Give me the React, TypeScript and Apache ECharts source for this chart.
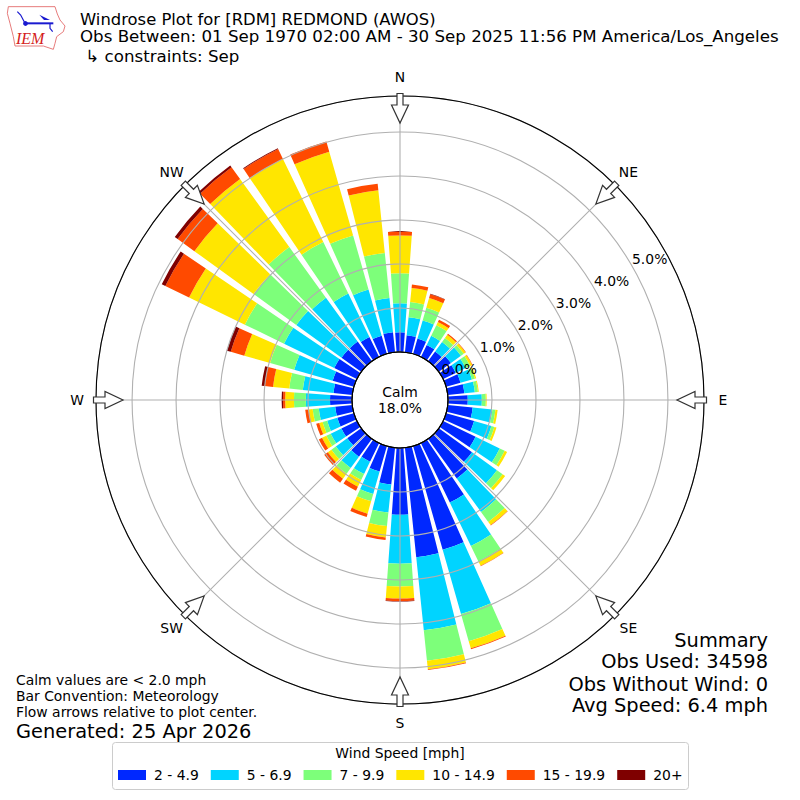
import React, { useEffect, useRef } from "react";
import * as echarts from "echarts";

const directions = Array.from({ length: 36 }, (_, i) => String(i * 10));
const compass = ["N", "NE", "E", "SE", "S", "SW", "W", "NW"];
const bins = ["2 - 4.9", "5 - 6.9", "7 - 9.9", "10 - 14.9", "15 - 19.9", "20+"];
const colors = ["#0028ff", "#00d4ff", "#7dff7a", "#ffe600", "#ff4a00", "#7f0000"];

const speed2to5 = [.45,.39,.36,.30,.27,.34,.32,.34,.38,.45,.57,.66,.82,.93,1.11,1.5,2.45,2.5,1.52,.84,.60,.47,.50,.39,.39,.39,.39,.5,.43,.5,.57,.55,.55,.5,.43,.46];
const speed5to7 = [.66,.41,.43,.23,.27,.28,.25,.27,.24,.32,.45,.41,.61,.70,.94,1.10,1.52,1.67,1.11,.64,.53,.31,.32,.32,.27,.24,.375,.55,.70,.91,1.27,1.27,1.23,1.10,1.09,.78];
const speed7to10 = [.68,.35,.30,.27,.11,.08,.11,.07,.07,.09,.07,.07,.125,.16,.28,.39,.64,.70,.52,.31,.175,.15,.16,.125,.11,.11,.14,.27,.31,.57,.99,1.20,1.42,1.30,1.28,1.03];
const speed10to15 = [.86,.32,.23,.08,.09,.05,.05,.03,.02,.02,.05,.05,.06,.07,.09,.11,.17,.19,.27,.26,.29,.17,.14,.10,.11,.08,.09,.20,.37,.61,1.41,1.66,1.91,2.10,1.98,1.43];
const speed15to20 = [.09,.08,.09,.06,.03,.01,.01,0,0,0,0,0,0,0,.01,.01,.02,.02,.06,.06,.08,.10,.11,.10,.08,.07,.08,.05,.19,.32,.60,.47,.33,.25,.24,.15];
const speed20plus = [0,0,.01,0,0,0,0,0,0,0,0,0,0,0,0,0,0,0,.01,0,0,0,0,0,0,0,0,.03,.07,.09,.09,.08,.05,.02,0,0];
const speedSeries = [speed2to5, speed5to7, speed7to10, speed10to15, speed15to20, speed20plus];

const titleLines = [
  "Windrose Plot for [RDM] REDMOND (AWOS)",
  "Obs Between: 01 Sep 1970 02:00 AM - 30 Sep 2025 11:56 PM America/Los_Angeles",
  " ↳ constraints: Sep",
];
const summaryLines = ["Summary", "Obs Used: 34598", "Obs Without Wind: 0", "Avg Speed: 6.4 mph"];
const noteLines = ["Calm values are < 2.0 mph", "Bar Convention: Meteorology", "Flow arrows relative to plot center."];
const FONT = "DejaVu Sans";
const CX = 400, CY = 400, R0 = 48, R1 = 304, RMAX = 5.82;

function txt(x: number, y: number, text: string, size: number, extra: any = {}) {
  return {
    type: "text", x, y, z: 20,
    style: { text, font: `${size}px "${FONT}"`, fill: extra.fill || "#000", align: extra.align || "left", verticalAlign: "middle" },
  };
}

function arrow(bearing: number) {
  const a = (bearing * Math.PI) / 180;
  const pt = (r: number, s: number): [number, number] => [
    CX + r * Math.sin(a) + s * Math.cos(a),
    CY - r * Math.cos(a) + s * Math.sin(a),
  ];
  return {
    type: "polygon", z: 15,
    shape: { points: [pt(306.5, -3), pt(306.5, 3), pt(295, 3), pt(295, 8.5), pt(277, 0), pt(295, -8.5), pt(295, -3)] },
    style: { fill: "#fff", stroke: "#333", lineWidth: 1.2 },
  };
}

function compassLabel(name: string, i: number) {
  const a = (i * 45 * Math.PI) / 180;
  return txt(CX + 323 * Math.sin(a), CY - 323 * Math.cos(a), name, 13.9, { align: "center" });
}

function logo() {
  const p = (pts: number[][]) => pts.map(([x, y]) => [x / 3, y / 3]);
  return [
    { type: "polygon", z: 20, shape: { points: p([[25,20],[165,20],[172,42],[180,60],[195,78],[190,95],[170,110],[165,130],[160,148],[130,138],[45,138],[40,110],[30,70],[22,40]]) }, style: { fill: "#fff", stroke: "#e05a5a", lineWidth: 0.8 } },
    { type: "polyline", z: 21, shape: { points: p([[75,70],[160,70]]) }, style: { stroke: "#1a1ad0", lineWidth: 2, fill: "none" } },
    { type: "polyline", z: 21, shape: { points: p([[52,35],[62,45],[75,70]]) }, style: { stroke: "#1a1ad0", lineWidth: 1.2, fill: "none" } },
    { type: "polygon", z: 21, shape: { points: p([[118,44],[150,60],[132,60]]) }, style: { fill: "#1a1ad0" } },
    { type: "circle", z: 21, shape: { cx: 25.5, cy: 23.5, r: 2.4 }, style: { fill: "#1a1ad0" } },
    { type: "polyline", z: 21, shape: { points: p([[150,70],[150,85],[158,95]]) }, style: { stroke: "#1a1ad0", lineWidth: 1.2, fill: "none" } },
    { type: "text", z: 21, x: 16, y: 38, style: { text: "IEM", font: 'italic 16px "Liberation Serif"', fill: "#d42020", align: "left", verticalAlign: "middle" } },
  ];
}

export default function App() {
  const ref = useRef<HTMLDivElement>(null);
  useEffect(() => {
    document.body.style.margin = "0";
    const chart = echarts.init(ref.current!, undefined, { renderer: "svg" });
    const polarCommon = { center: [CX, CY], radius: [R0, R1] };
    chart.setOption({
      animation: false,
      backgroundColor: "#fff",
      textStyle: { fontFamily: FONT },
      polar: [polarCommon, polarCommon, polarCommon],
      angleAxis: [
        { polarIndex: 0, type: "category", data: directions, startAngle: 95, show: false },
        {
          polarIndex: 1, type: "value", min: 0, max: 360, interval: 45, startAngle: 90, z: 3,
          axisLine: { show: true, lineStyle: { color: "#000", width: 1.1 } },
          axisTick: { show: false },
          axisLabel: { show: false },
          splitLine: { show: true, lineStyle: { color: "#b0b0b0", width: 1.1 } },
        },
        { polarIndex: 2, type: "value", min: 0, max: 360, startAngle: 30, show: false },
      ],
      radiusAxis: [
        { polarIndex: 0, type: "value", min: 0, max: RMAX, show: false },
        {
          polarIndex: 1, type: "value", min: 0, max: RMAX, interval: 1, z: 3,
          axisLine: { show: false }, axisTick: { show: false }, axisLabel: { show: false },
          splitLine: { show: true, lineStyle: { color: "#b0b0b0", width: 1.1 } },
        },
        {
          polarIndex: 2, type: "value", min: 0, max: RMAX, interval: 1, z: 5,
          axisLine: { show: false }, axisTick: { show: false }, splitLine: { show: false },
          axisLabel: {
            show: true, inside: true, margin: 0, fontSize: 13.9, color: "#000", fontFamily: FONT, align: "left", verticalAlign: "bottom",
            formatter: (v: number) => (Number.isInteger(v) ? v.toFixed(1) + "%" : ""),
          },
        },
      ],
      legend: {
        left: 118, top: 768, padding: 0, icon: "rect", itemWidth: 28, itemHeight: 10, itemGap: 12,
        data: bins, selectedMode: false, z: 22,
        textStyle: { fontFamily: FONT, fontSize: 13.9, color: "#000", padding: [0, 0, 0, 3] },
      },
      series: bins.map((name, i) => ({
        name, type: "bar", coordinateSystem: "polar", polarIndex: 0, stack: "wind",
        data: speedSeries[i], barCategoryGap: "18%", z: 2, silent: true,
        itemStyle: { color: colors[i] },
      })),
      graphic: [
        { type: "circle", z: 14, shape: { cx: CX, cy: CY, r: R0 }, style: { fill: "none", stroke: "#000", lineWidth: 1.1 } },
        ...compass.map((_, i) => arrow(i * 45)),
        ...compass.map(compassLabel),
        txt(80, 19, titleLines[0], 16.4),
        txt(80, 36.5, titleLines[1], 16.67),
        txt(80, 56, titleLines[2], 16.67),
        ...logo(),
        txt(400, 392, "Calm", 13.9, { align: "center" }),
        txt(400, 408, "18.0%", 13.9, { align: "center" }),
        ...summaryLines.map((s, i) => txt(768, [640, 661, 684, 705][i], s, 19.4, { align: "right" })),
        ...noteLines.map((s, i) => txt(16, 679.5 + i * 16, s, 13.9)),
        txt(16, 731, "Generated: 25 Apr 2026", 19.4),
        { type: "rect", z: 1, shape: { x: 112.5, y: 742.5, width: 576, height: 47, r: 3 }, style: { fill: "#fff", stroke: "#ccc", lineWidth: 1 } },
        txt(400, 753, "Wind Speed [mph]", 13.9, { align: "center" }),
      ],
    });
    return () => chart.dispose();
  }, []);
  return <div ref={ref} style={{ width: 800, height: 800 }} />;
}
